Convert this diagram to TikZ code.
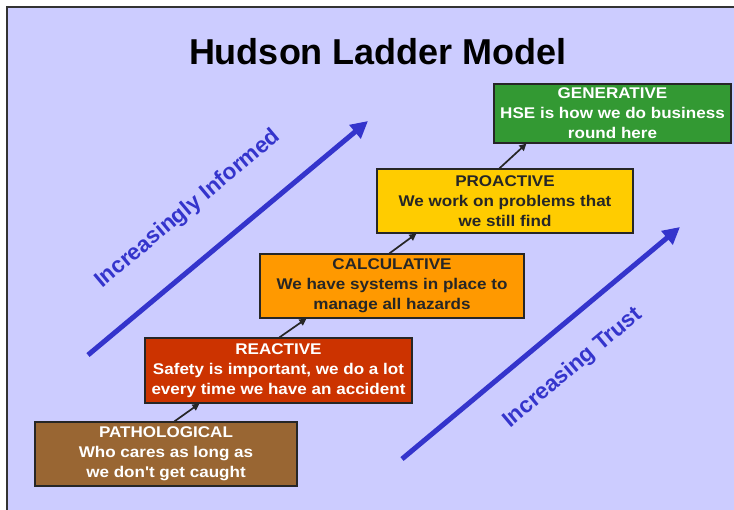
\documentclass[tikz,border=0pt]{standalone}
\usepackage{fontspec}
\setmainfont{Liberation Sans}
\newfontfamily\boxfont[FakeStretch=1.1]{Liberation Sans}
\usetikzlibrary{arrows.meta}
\definecolor{slidebg}{HTML}{CCCCFF}
\definecolor{trendblue}{HTML}{3434CC}
\definecolor{gengreen}{HTML}{339933}
\definecolor{proyellow}{HTML}{FFCC00}
\definecolor{calcorange}{HTML}{FF9900}
\definecolor{reactred}{HTML}{CC3300}
\definecolor{pathbrown}{HTML}{996633}

\tikzset{
  rung/.style={draw=black!85, line width=1.2pt, minimum width=#1,
    minimum height=64pt, inner sep=0pt, align=center,
    font=\boxfont\bfseries\fontsize{15.5}{20}\selectfont},
  climb/.style={draw=black!85, line width=1.7pt, -{Triangle[length=7pt,width=7pt]}},
  trend/.style={draw=trendblue, line width=5pt, -{Triangle[length=17pt,width=17pt]}},
  trendtext/.style={text=trendblue, rotate=40,
    font=\bfseries\fontsize{22.5}{26}\selectfont}
}

\begin{document}
\begin{tikzpicture}[x=1pt, y=-1pt]
  \useasboundingbox (0,0) rectangle (734,509);
  % slide background
  \draw[fill=slidebg, draw=black!80, line width=1.5pt] (7,7) rectangle (745,520);

  \node[font=\bfseries\fontsize{36}{40}\selectfont] (title) at (378,52) {Hudson Ladder Model};

  % the five rungs
  \node[rung=262pt, fill=pathbrown, text=white] (path) at (166,454)
    {PATHOLOGICAL\\Who cares as long as\\we don't get caught};
  \node[rung=267pt, fill=reactred, text=white, minimum height=65pt] (react) at (278.5,370.5)
    {REACTIVE\\Safety is important, we do a lot\\every time we have an accident};
  \node[rung=264pt, fill=calcorange, text=black!85] (calc) at (392,286)
    {CALCULATIVE\\We have systems in place to\\manage all hazards};
  \node[rung=256pt, fill=proyellow, text=black!85] (proact) at (505,201)
    {PROACTIVE\\We work on problems that\\we still find};
  \node[rung=237pt, fill=gengreen, text=white, minimum height=59pt] (gen) at (612.5,113.5)
    {GENERATIVE\\HSE is how we do business\\round here};

  \draw[climb] ([xshift=140pt]path.north west) -- ([xshift=55pt]react.south west);
  \draw[climb] ([xshift=135pt]react.north west) -- ([xshift=47pt]calc.south west);
  \draw[climb] ([xshift=130pt]calc.north west) -- ([xshift=40pt]proact.south west);
  \draw[climb] ([xshift=123pt]proact.north west) -- ([xshift=33pt]gen.south west);

  % trend arrows
  \coordinate (inf-a) at (88,355);
  \coordinate (inf-b) at (368,121);
  \coordinate (tru-a) at (402,459);
  \coordinate (tru-b) at (680,227);
  \draw[trend] (inf-a) -- (inf-b);
  \draw[trend] (tru-a) -- (tru-b);
  \node[trendtext] (informed) at (188,209) {Increasingly Informed};
  \node[trendtext] (trust) at (573,368) {Increasing Trust};
\end{tikzpicture}
\end{document}
